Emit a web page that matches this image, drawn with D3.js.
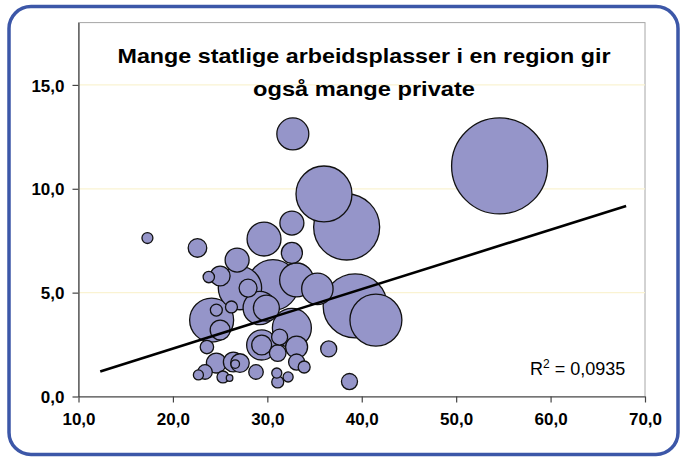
<!DOCTYPE html>
<html>
<head>
<meta charset="utf-8">
<script src="https://cdn.jsdelivr.net/npm/d3@7"></script>
<style>
  body { margin: 0; background: #fff; }
  svg { display: block; font-family: "Liberation Sans", Arial, sans-serif; }
</style>
</head>
<body>
<div id="chart"></div>
<script>
// Bubble data: x, y and relative size (area)
const xValues = [54.6, 36.0, 38.4, 32.7, 32.6, 29.65, 17.3, 22.6, 32.6, 26.8, 23.8, 25.0, 27.1, 27.96, 30.6, 33.1, 35.3, 39.3, 41.5, 24.1,
  24.6, 26.2, 25.0, 29.2, 29.9, 32.6, 31.3, 29.4, 29.4, 23.6, 33.1, 33.1, 31.1, 36.5, 24.6, 23.4, 22.7, 25.3, 26.4, 27.1,
  26.6, 26.0, 28.8, 33.9, 31.0, 32.2, 31.1, 38.7];
const yValues = [11.10, 9.75, 8.16, 12.64, 8.35, 7.58, 7.63, 7.15, 6.91, 6.57, 5.75, 5.80, 5.22, 5.22, 5.37, 5.61, 5.18, 4.36, 3.68, 3.68,
  4.16, 4.31, 3.20, 4.26, 4.26, 3.30, 2.86, 2.48, 2.48, 2.38, 2.38, 1.66, 2.09, 2.29, 1.61, 1.18, 1.04, 0.94, 1.66, 1.61,
  1.56, 0.89, 1.18, 1.42, 1.13, 0.94, 0.70, 0.72];
const sizes = [100, 34.0, 47.3, 11.1, 6.25, 12.5, 1.3, 3.75, 4.8, 6.25, 1.4, 4.3, 20.4, 3.5, 28.0, 12.5, 10.7, 44.4, 29.3, 21.0,
  1.56, 1.56, 4.3, 12.1, 7.3, 16.5, 2.8, 9.8, 4.3, 1.95, 5.25, 2.8, 3.0, 2.8, 4.3, 2.3, 1.1, 1.56, 4.3, 3.75,
  0.8, 0.47, 2.3, 1.56, 1.1, 1.1, 1.56, 2.8];

const xTicks = [10, 20, 30, 40, 50, 60, 70];
const yTicks = [0, 5, 10, 15];

// Linear trendline y = a + b*x
const trendIntercept = -0.55;
const trendSlope = 0.143;
const trendRange = [12.3, 68.0];
const rSquared = "0,0935";

const titleLines = ["Mange statlige arbeidsplasser i en region gir", "også mange private"];

const width = 685, height = 459;
const svg = d3.select("#chart").append("svg")
  .attr("width", width)
  .attr("height", height);

const x = d3.scaleLinear().domain([10, 70]).range([78.5, 645]);
const y = d3.scaleLinear().domain([0, 18]).range([396.5, 22.6]);
const r = d3.scaleSqrt().domain([0, 100]).range([0, 48]);

const fmt = d => d3.format(".1f")(d).replace(".", ",");

// outer rounded frame
svg.append("rect")
  .attr("x", 9).attr("y", 6.5)
  .attr("width", 669).attr("height", 448)
  .attr("rx", 22).attr("ry", 22)
  .attr("fill", "#fff")
  .attr("stroke", "#3c57a8")
  .attr("stroke-width", 3.5);

// plot area border
svg.append("rect")
  .attr("x", x(10)).attr("y", y(18))
  .attr("width", x(70) - x(10)).attr("height", y(0) - y(18))
  .attr("fill", "none")
  .attr("stroke", "#a6a6a6")
  .attr("stroke-width", 1);

// gridlines
svg.append("g")
  .selectAll("line")
  .data(yTicks.filter(d => d > 0))
  .enter()
  .append("line")
  .attr("x1", x(10)).attr("x2", x(70))
  .attr("y1", d => y(d)).attr("y2", d => y(d))
  .attr("stroke", "#faf3d2")
  .attr("stroke-width", 1.2);

// bubbles, largest first so smaller ones sit on top
const bubbles = xValues.map((d, i) => ({ x: d, y: yValues[i], s: sizes[i] }))
  .sort((a, b) => b.s - a.s);

svg.append("g")
  .selectAll("circle")
  .data(bubbles)
  .enter()
  .append("circle")
  .attr("cx", d => x(d.x))
  .attr("cy", d => y(d.y))
  .attr("r", d => r(d.s))
  .attr("fill", "#9595c9")
  .attr("stroke", "#111")
  .attr("stroke-width", 1.3);

// trendline
svg.append("line")
  .attr("x1", x(trendRange[0]))
  .attr("y1", y(trendIntercept + trendSlope * trendRange[0]))
  .attr("x2", x(trendRange[1]))
  .attr("y2", y(trendIntercept + trendSlope * trendRange[1]))
  .attr("stroke", "#000")
  .attr("stroke-width", 2.6);

// axes
const yAxis = svg.append("g")
  .attr("transform", `translate(${x(10)},0)`)
  .call(d3.axisLeft(y).tickValues(yTicks).tickFormat(fmt).tickSize(6).tickSizeOuter(0).tickPadding(8));

const xAxis = svg.append("g")
  .attr("transform", `translate(0,${y(0)})`)
  .call(d3.axisBottom(x).tickValues(xTicks).tickFormat(fmt).tickSize(6).tickSizeOuter(0).tickPadding(7));

[yAxis, xAxis].forEach(g => {
  g.select(".domain").attr("stroke", "#444").attr("stroke-width", 1.2);
  g.selectAll(".tick line").attr("stroke", "#444").attr("stroke-width", 1.2);
  g.selectAll(".tick text")
    .attr("fill", "#000")
    .style("font-size", "17px")
    .style("font-weight", "bold")
    .style("font-family", '"Liberation Sans", Arial, sans-serif');
});
yAxis.selectAll(".tick text").attr("dy", "0.36em");
xAxis.selectAll(".tick text").attr("dy", "0.9em");

// title
const titleWidths = [493, 222];
svg.append("g")
  .selectAll("text")
  .data(titleLines)
  .enter()
  .append("text")
  .attr("x", 364)
  .attr("y", (d, i) => 63 + i * 33)
  .attr("text-anchor", "middle")
  .attr("textLength", (d, i) => titleWidths[i])
  .attr("lengthAdjust", "spacingAndGlyphs")
  .style("font-size", "21px")
  .style("font-weight", "bold")
  .text(d => d);

// R squared label
const rLabel = svg.append("text")
  .attr("x", 530)
  .attr("y", 375)
  .style("font-size", "18px")
  .attr("fill", "#000");
rLabel.append("tspan").text("R");
rLabel.append("tspan").attr("dy", -7).style("font-size", "12px").text("2");
rLabel.append("tspan").attr("dy", 7).text(" = " + rSquared);
</script>
</body>
</html>
